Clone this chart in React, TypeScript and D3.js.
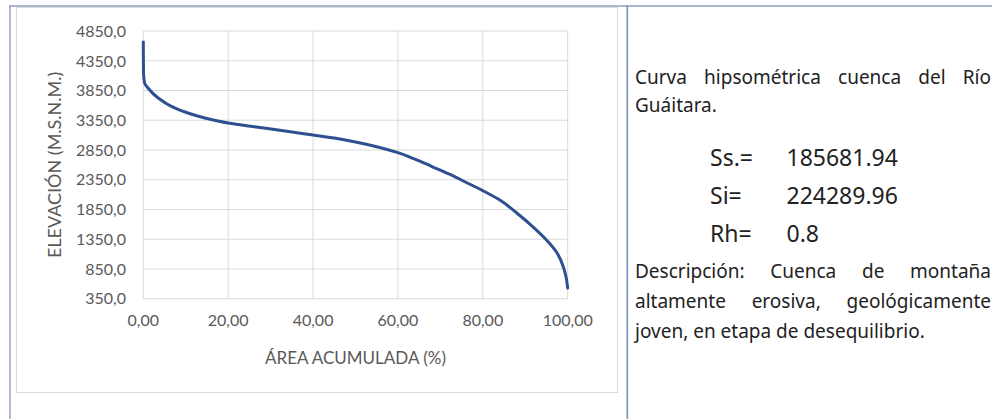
import React, { useEffect, useRef } from "react";
import * as d3 from "d3";

// Hypsometric curve — Río Guáitara
const areaPct = [0, 0.05, 0.3, 1.1, 3.5, 6.6, 10.5, 14.5, 20, 26.6, 33, 40, 45, 50, 55, 60, 64, 68, 72, 76, 80, 84, 88, 92, 95, 97.4, 99, 99.6, 100];
const elevation = [4665, 4150, 3975, 3892, 3724, 3584, 3472, 3388, 3303, 3236, 3174, 3102, 3050, 2985, 2905, 2805, 2695, 2572, 2448, 2308, 2166, 2009, 1790, 1545, 1337, 1130, 880, 720, 530];

const yTicks = [350, 850, 1350, 1850, 2350, 2850, 3350, 3850, 4350, 4850];
const xTicks = [0, 20, 40, 60, 80, 100];

const xTitle = "ÁREA ACUMULADA (%)";
const yTitle = "ELEVACIÓN (M.S.N.M.)";

const titleLines = ["Curva hipsométrica cuenca del Río", "Guáitara."];
const statLabels = ["Ss.=", "Si=", "Rh="];
const statValues = ["185681.94", "224289.96", "0.8"];
const descLines = ["Descripción: Cuenca de montaña", "altamente erosiva, geológicamente", "joven, en etapa de desequilibrio."];

const W = 992;
const H = 419;

export default function App() {
  const ref = useRef<SVGSVGElement | null>(null);

  useEffect(() => {
    document.body.style.margin = "0";
    const svg = d3.select(ref.current);
    svg.selectAll("*").remove();

    const chartFont = "Lato, 'Open Sans', sans-serif";
    const textFont = "'Noto Sans', sans-serif";

    // Plot scales
    const x = d3.scaleLinear().domain([0, 100]).range([143.3, 567.7]);
    const y = d3.scaleLinear().domain([350, 4850]).range([298.7, 31]);

    // chart outer border
    svg.append("rect").attr("x", 16.5).attr("y", 7.5).attr("width", 601).attr("height", 385)
      .attr("fill", "#fff").attr("stroke", "#d9d9d9").attr("stroke-width", 1);

    // table borders
    svg.append("line").attr("x1", 9).attr("x2", W).attr("y1", 6).attr("y2", 6)
      .attr("stroke", "#a9b6ce").attr("stroke-width", 2);
    svg.append("line").attr("x1", 10).attr("x2", 10).attr("y1", 5).attr("y2", H)
      .attr("stroke", "#93a3c2").attr("stroke-width", 1.5);
    svg.append("line").attr("x1", 627.3).attr("x2", 627.3).attr("y1", 5).attr("y2", H)
      .attr("stroke", "#8799bd").attr("stroke-width", 1.8);

    // gridlines
    const g = svg.append("g");
    g.selectAll("line.h").data(yTicks).join("line").attr("class", "h")
      .attr("x1", x(0)).attr("x2", x(100))
      .attr("y1", (d) => y(d)).attr("y2", (d) => y(d))
      .attr("stroke", "#d9d9d9").attr("stroke-width", 1);
    g.selectAll("line.v").data(xTicks).join("line").attr("class", "v")
      .attr("x1", (d) => x(d)).attr("x2", (d) => x(d))
      .attr("y1", y(4850)).attr("y2", y(350))
      .attr("stroke", "#d9d9d9").attr("stroke-width", 1);

    // tick labels
    const fmtY = (v: number) => v.toFixed(1).replace(".", ",");
    const fmtX = (v: number) => v.toFixed(2).replace(".", ",");
    g.selectAll("text.yl").data(yTicks).join("text").attr("class", "yl")
      .attr("x", 126).attr("y", (d) => y(d)).attr("dy", "0.36em")
      .attr("text-anchor", "end").attr("font-family", chartFont).attr("font-size", 16)
      .attr("fill", "#595959").text((d) => fmtY(d));
    g.selectAll("text.xl").data(xTicks).join("text").attr("class", "xl")
      .attr("x", (d) => x(d)).attr("y", 325.7)
      .attr("text-anchor", "middle").attr("font-family", chartFont).attr("font-size", 16)
      .attr("fill", "#595959").text((d) => fmtX(d));

    // axis titles
    svg.append("text").attr("x", (x(0) + x(100)) / 2).attr("y", 364)
      .attr("text-anchor", "middle").attr("font-family", chartFont).attr("font-size", 17)
      .attr("fill", "#595959").text(xTitle);
    svg.append("text").attr("transform", `translate(61,${(y(350) + y(4850)) / 2}) rotate(-90)`)
      .attr("text-anchor", "middle").attr("font-family", chartFont).attr("font-size", 18)
      .attr("fill", "#595959").text(yTitle);

    // curve
    const pts = areaPct.map((a, i) => [a, elevation[i]] as [number, number]);
    const line = d3.line<[number, number]>()
      .x((d) => x(d[0])).y((d) => y(d[1]))
      .curve(d3.curveMonotoneY);
    svg.append("path").attr("d", line(pts) as string)
      .attr("fill", "none").attr("stroke", "#2e5090").attr("stroke-width", 3)
      .attr("stroke-linecap", "round").attr("stroke-linejoin", "round");

    // right-hand text
    const tx0 = 635;
    const tx1 = 991;
    const justify = (str: string, baseline: number, size: number) => {
      const words = str.split(" ");
      const nodes = words.map((w) =>
        svg.append("text").attr("y", baseline).attr("font-family", textFont)
          .attr("font-size", size).attr("fill", "#222").text(w)
      );
      const widths = nodes.map((n) => (n.node() as SVGTextElement).getComputedTextLength());
      const total = d3.sum(widths);
      const gap = words.length > 1 ? (tx1 - tx0 - total) / (words.length - 1) : 0;
      let cx = tx0;
      nodes.forEach((n, i) => {
        n.attr("x", cx);
        cx += widths[i] + gap;
      });
    };
    const left = (str: string, xx: number, baseline: number, size: number) => {
      svg.append("text").attr("x", xx).attr("y", baseline).attr("font-family", textFont)
        .attr("font-size", size).attr("fill", "#222").text(str);
    };

    justify(titleLines[0], 84, 19);
    left(titleLines[1], tx0, 111.5, 19);

    const statBase = [166, 204, 242];
    statLabels.forEach((s, i) => {
      left(s, 710, statBase[i], 23);
      left(statValues[i], 786.5, statBase[i], 23);
    });

    justify(descLines[0], 278, 19);
    justify(descLines[1], 308, 19);
    left(descLines[2], tx0, 337.5, 19);
  }, []);

  return (
    <svg
      ref={ref}
      width={W}
      height={H}
      style={{ position: "absolute", left: 0, top: 0, background: "#fff" }}
    />
  );
}
